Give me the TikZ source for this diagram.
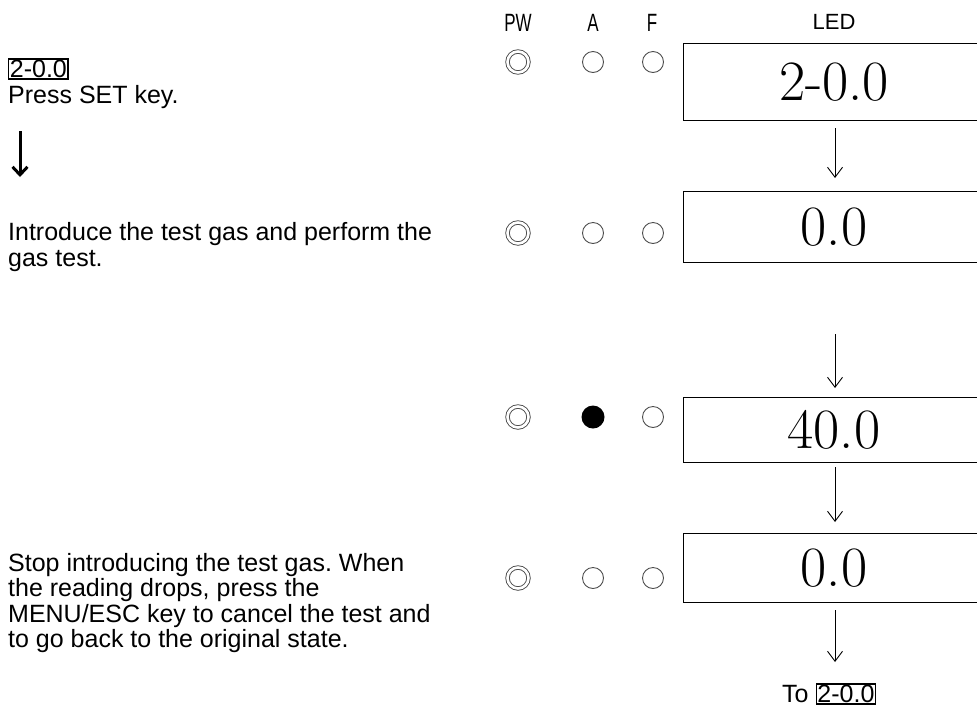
\documentclass[tikz,border=0pt]{standalone}
\usepackage{fontspec}
\setmainfont{Liberation Sans}
\newfontfamily\narrowfont[FakeStretch=0.68]{Liberation Sans}
\newfontfamily\lmfont{Latin Modern Roman}
\usetikzlibrary{arrows.meta}
\frenchspacing
\tikzset{
  txt/.style={anchor=west, inner sep=0pt, font=\fontsize{25}{25.5}\selectfont, align=left},
  ledbox/.style={draw, line width=1.3pt, minimum width=310pt, anchor=north west, inner sep=0pt},
  ledtxt/.style={inner sep=0pt, font=\lmfont\fontsize{57}{57}\selectfont},
  flow/.style={-{Straight Barb[length=10pt,width=15pt]}, line width=0.9pt},
  hdr/.style={inner sep=0pt, font=\narrowfont\fontsize{25}{25}\selectfont},
  offled/.style={draw=black!70, line width=0.9pt, circle, minimum size=21pt, inner sep=0pt},
  onled/.style={fill=black, circle, minimum size=23pt, inner sep=0pt},
  pwled/.style={draw=black!70, line width=0.9pt, circle, minimum size=21pt, inner sep=0pt, double, double distance=2.6pt},
  framed/.style={draw, line width=1.4pt, inner sep=1.2pt}
}
\begin{document}
\begin{tikzpicture}[x=1pt,y=-1pt]
\useasboundingbox (0,0) rectangle (977,713);
\clip (0,0) rectangle (977,713);
% headers
\node[hdr] (hPW) at (518,23) {PW};
\node[hdr] (hA) at (593,23) {A};
\node[hdr] (hF) at (652,23) {F};
\node[inner sep=0pt, font=\fontsize{22}{22}\selectfont] (hLED) at (834,22) {LED};
% row 1
\node[pwled] (pw1) at (518,62) {};
\node[offled] (a1) at (593,62) {};
\node[offled] (f1) at (653,62) {};
\node[ledbox, minimum height=77pt] (b1) at (683,43) {};
\node[ledtxt] (t1) at (834,82) {2-0.0};
% row 2
\node[pwled] (pw2) at (518,233) {};
\node[offled] (a2) at (593,233) {};
\node[offled] (f2) at (653,233) {};
\node[ledbox, minimum height=71pt] (b2) at (683,191) {};
\node[ledtxt] (t2) at (834,227) {0.0};
% row 3
\node[pwled] (pw3) at (518,417) {};
\node[onled] (a3) at (593,417) {};
\node[offled] (f3) at (653,417) {};
\node[ledbox, minimum height=65pt] (b3) at (683,397) {};
\node[ledtxt] (t3) at (834,430) {40.0};
% row 4
\node[pwled] (pw4) at (518,578) {};
\node[offled] (a4) at (593,578) {};
\node[offled] (f4) at (653,578) {};
\node[ledbox, minimum height=69pt] (b4) at (683,533) {};
\node[ledtxt] (t4) at (834,568) {0.0};
% arrows
\coordinate (s1) at (835,128);
\coordinate (e1) at (835,178);
\draw[flow] (s1) -- (e1);
\coordinate (s2) at (835,334);
\coordinate (e2) at (835,388);
\draw[flow] (s2) -- (e2);
\coordinate (s3) at (835,467);
\coordinate (e3) at (835,522);
\draw[flow] (s3) -- (e3);
\coordinate (s4) at (835,610);
\coordinate (e4) at (835,662);
\draw[flow] (s4) -- (e4);
\node[anchor=west, inner sep=0pt, font=\fontsize{25}{25}\selectfont] (to) at (782,694) {To \tikz[baseline=(q.base)]\node[framed] (q) {2-0.0};};
% left texts
\node[framed, anchor=west, font=\fontsize{25}{25}\selectfont] (k1) at (8,69) {2-0.0};
\node[txt] (l1) at (8,97) {Press SET key.};
\coordinate (ls) at (20,131);
\coordinate (le) at (20,177);
\draw[-{Straight Barb[length=8pt,width=15pt]}, line width=3pt] (ls) -- (le);
\node[txt] (l2) at (8,247) {Introduce the test gas and perform the\\gas test.};
\node[txt] (l3) at (8,603) {Stop introducing the test gas. When\\the reading drops, press the\\MENU/ESC key to cancel the test and\\to go back to the original state.};
\end{tikzpicture}
\end{document}
